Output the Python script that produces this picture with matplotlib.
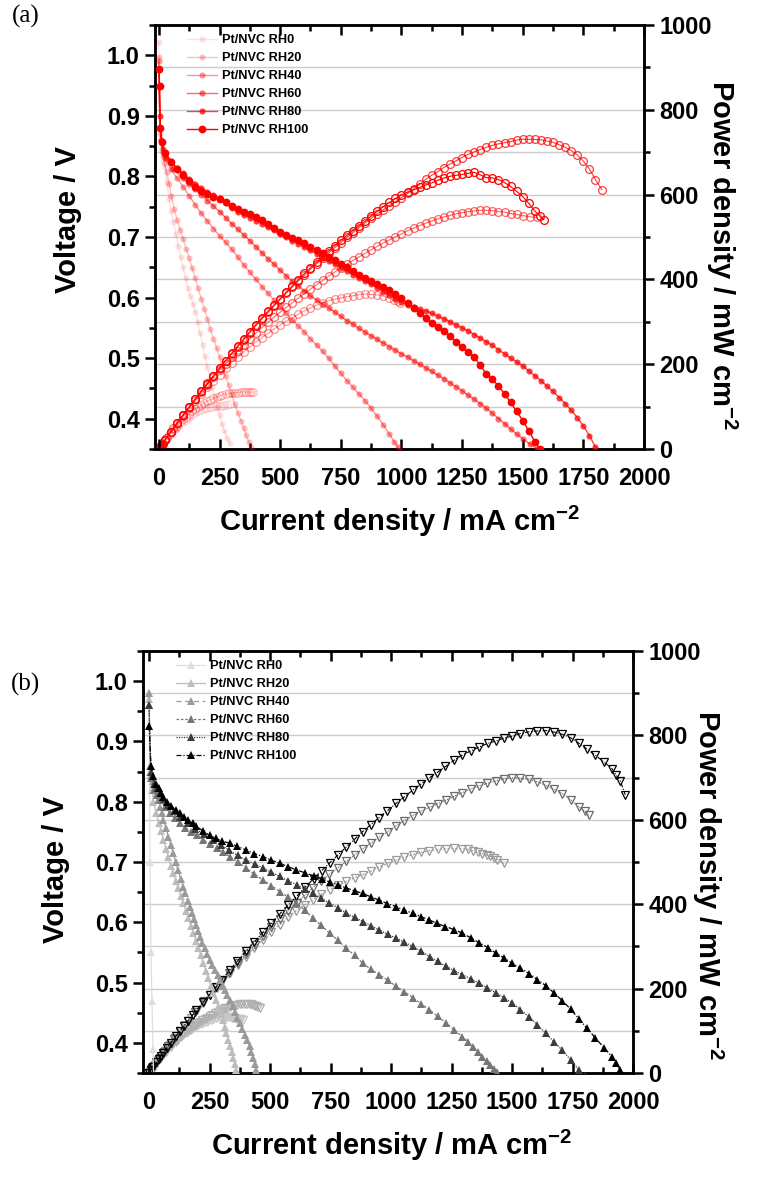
import matplotlib
matplotlib.use("Agg")
import matplotlib.pyplot as plt
import numpy as np
from matplotlib.ticker import MultipleLocator, FormatStrFormatter

plt.rcParams['font.family'] = ['Liberation Sans', 'DejaVu Sans']
plt.rcParams['mathtext.fontset'] = 'custom'
plt.rcParams['mathtext.rm'] = 'Liberation Sans'
plt.rcParams['mathtext.bf'] = 'Liberation Sans:bold'

labels = ["Pt/NVC RH0", "Pt/NVC RH20", "Pt/NVC RH40", "Pt/NVC RH60", "Pt/NVC RH80", "Pt/NVC RH100"]

# ---------------- Panel (a) data: current density (mA cm-2), voltage (V) ----------------
a_rh0_i = [0, 4, 10, 18, 25, 33, 42, 51, 60, 70, 80, 90, 100, 110, 120, 130, 140, 150, 160, 170,
           180, 190, 200, 210, 220, 230, 240, 250, 260, 270, 280, 292]
a_rh0_v = [1.022, 0.88, 0.845, 0.83, 0.816, 0.79, 0.762, 0.743, 0.725, 0.705, 0.685, 0.667, 0.650, 0.632,
           0.615, 0.603, 0.590, 0.576, 0.560, 0.541, 0.522, 0.503, 0.485, 0.468, 0.452, 0.436, 0.420,
           0.406, 0.392, 0.380, 0.368, 0.360]

a_rh20_i = [0, 5, 15, 23, 32, 42, 52, 63, 75, 88, 100, 112, 125, 138, 150, 162, 175, 188, 200, 212,
            225, 238, 250, 262, 275, 288, 300, 312, 325, 338, 350, 360, 370, 378, 386]
a_rh20_v = [0.997, 0.87, 0.835, 0.822, 0.808, 0.788, 0.767, 0.747, 0.728, 0.712, 0.697, 0.681, 0.665,
            0.648, 0.632, 0.615, 0.598, 0.581, 0.565, 0.548, 0.532, 0.517, 0.502, 0.486, 0.470, 0.455,
            0.440, 0.425, 0.410, 0.397, 0.385, 0.373, 0.362, 0.354, 0.347]

a_rh40_i = [0, 5, 15, 25, 50, 75, 100, 125, 150, 175, 200, 225, 250, 275, 300, 325, 350, 375, 400,
            425, 450, 475, 500, 525, 550, 575, 600, 625, 650, 675, 700, 725, 750, 775, 800, 825, 850,
            875, 900, 925, 950, 970, 984, 995]
a_rh40_v = [0.99, 0.88, 0.84, 0.830, 0.812, 0.797, 0.783, 0.768, 0.753, 0.739, 0.726, 0.714, 0.702,
            0.691, 0.680, 0.667, 0.654, 0.642, 0.630, 0.618, 0.607, 0.596, 0.585, 0.574, 0.563, 0.553,
            0.543, 0.532, 0.522, 0.511, 0.500, 0.487, 0.475, 0.463, 0.452, 0.441, 0.430, 0.417, 0.404,
            0.390, 0.375, 0.362, 0.354, 0.347]

a_rh60_i = [0, 5, 15, 30, 60, 100, 125, 150, 175, 200, 225, 250, 275, 300, 325, 350, 375, 400, 425,
            450, 475, 500, 525, 550, 575, 600, 625, 650, 675, 700, 725, 750, 775, 800, 825, 850, 875,
            900, 925, 950, 975, 1000, 1025, 1050, 1075, 1100, 1125, 1150, 1175, 1200, 1225, 1250,
            1275, 1300, 1325, 1350, 1375, 1400, 1425, 1450, 1475, 1500, 1530, 1560]
a_rh60_v = [0.948, 0.88, 0.845, 0.83, 0.813, 0.797, 0.788, 0.779, 0.770, 0.760, 0.751, 0.742, 0.732,
            0.722, 0.713, 0.703, 0.694, 0.684, 0.674, 0.664, 0.655, 0.645, 0.636, 0.627, 0.619, 0.611,
            0.603, 0.596, 0.589, 0.583, 0.576, 0.569, 0.562, 0.556, 0.549, 0.543, 0.537, 0.531, 0.525,
            0.519, 0.513, 0.507, 0.502, 0.496, 0.490, 0.484, 0.478, 0.472, 0.466, 0.459, 0.453, 0.446,
            0.439, 0.432, 0.425, 0.417, 0.409, 0.400, 0.392, 0.383, 0.375, 0.367, 0.358, 0.350]

a_rh80_i = [0, 4, 10, 25, 50, 75, 100, 125, 150, 175, 200, 225, 250, 275, 300, 325, 350, 375, 400,
            425, 450, 475, 500, 525, 550, 575, 600, 625, 650, 675, 700, 725, 750, 775, 800, 825, 850,
            875, 900, 925, 950, 975, 1000, 1025, 1050, 1075, 1100, 1125, 1150, 1175, 1200, 1225, 1250,
            1275, 1300, 1325, 1350, 1375, 1400, 1425, 1450, 1475, 1500, 1525, 1550, 1575, 1600, 1625,
            1650, 1675, 1700, 1725, 1750, 1775, 1800, 1826]
a_rh80_v = [0.975, 0.90, 0.86, 0.84, 0.825, 0.814, 0.805, 0.796, 0.788, 0.781, 0.775, 0.769, 0.764,
            0.756, 0.748, 0.742, 0.737, 0.732, 0.727, 0.722, 0.716, 0.711, 0.705, 0.700, 0.694, 0.689,
            0.683, 0.678, 0.672, 0.666, 0.660, 0.655, 0.649, 0.644, 0.638, 0.633, 0.627, 0.622, 0.616,
            0.610, 0.604, 0.598, 0.593, 0.588, 0.584, 0.581, 0.578, 0.574, 0.569, 0.565, 0.560, 0.555,
            0.550, 0.545, 0.539, 0.533, 0.527, 0.521, 0.514, 0.507, 0.500, 0.494, 0.487, 0.479, 0.471,
            0.463, 0.454, 0.445, 0.435, 0.425, 0.414, 0.402, 0.388, 0.372, 0.353, 0.335]

a_rh100_i = [0, 3, 6, 12, 25, 50, 75, 100, 125, 150, 175, 200, 225, 250, 275, 300, 325, 350, 375,
             400, 425, 450, 475, 500, 525, 550, 575, 600, 625, 650, 675, 700, 725, 750, 775, 800, 825,
             850, 875, 900, 925, 950, 975, 1000, 1025, 1050, 1075, 1100, 1125, 1150, 1175, 1200, 1225,
             1250, 1275, 1300, 1325, 1350, 1375, 1400, 1425, 1450, 1475, 1500, 1525, 1550, 1570, 1587]
a_rh100_v = [0.978, 0.95, 0.88, 0.857, 0.838, 0.824, 0.812, 0.803, 0.792, 0.783, 0.776, 0.771, 0.766,
             0.762, 0.757, 0.752, 0.747, 0.742, 0.738, 0.733, 0.728, 0.722, 0.715, 0.709, 0.704, 0.699,
             0.695, 0.690, 0.684, 0.678, 0.673, 0.667, 0.662, 0.656, 0.650, 0.644, 0.638, 0.632, 0.628,
             0.623, 0.618, 0.612, 0.606, 0.599, 0.591, 0.582, 0.574, 0.566, 0.558, 0.551, 0.544, 0.536,
             0.527, 0.518, 0.510, 0.502, 0.488, 0.474, 0.465, 0.454, 0.441, 0.427, 0.412, 0.397, 0.380,
             0.362, 0.350, 0.341]

# ---------------- Panel (b) data ----------------
b_rh0_i = [0, 4, 8, 12, 16, 20]
b_rh0_v = [0.98, 0.70, 0.55, 0.47, 0.39, 0.33]

b_rh20_i = [0, 5, 12, 18, 29, 40, 50, 59, 70, 80, 90, 100, 110, 120, 131, 141, 152, 162, 173, 183,
            194, 204, 214, 224, 235, 245, 255, 265, 276, 286, 296, 306, 313, 320, 327, 334, 341, 348,
            355, 361, 368, 375, 382, 389]
b_rh20_v = [0.97, 0.85, 0.82, 0.80, 0.782, 0.765, 0.751, 0.737, 0.722, 0.708, 0.694, 0.681, 0.669,
            0.657, 0.644, 0.632, 0.619, 0.607, 0.594, 0.582, 0.569, 0.557, 0.545, 0.532, 0.519, 0.507,
            0.494, 0.482, 0.471, 0.460, 0.449, 0.438, 0.427, 0.416, 0.405, 0.394, 0.385, 0.375, 0.365,
            0.355, 0.347, 0.340, 0.332, 0.324]

b_rh40_i = [0, 4, 10, 15, 24, 32, 38, 45, 52, 59, 70, 80, 90, 100, 110, 120, 131, 141, 150, 160,
            168, 176, 185, 193, 202, 210, 220, 230, 240, 251, 262, 272, 283, 293, 304, 314, 324, 334,
            345, 355, 365, 375, 385, 395, 406, 416, 423, 430, 437, 444, 450, 457]
b_rh40_v = [0.98, 0.86, 0.845, 0.835, 0.825, 0.814, 0.803, 0.792, 0.781, 0.770, 0.756, 0.742, 0.728,
            0.715, 0.700, 0.686, 0.672, 0.659, 0.648, 0.636, 0.625, 0.615, 0.605, 0.595, 0.585, 0.576,
            0.566, 0.557, 0.547, 0.538, 0.529, 0.521, 0.512, 0.504, 0.495, 0.487, 0.479, 0.471, 0.461,
            0.452, 0.442, 0.433, 0.423, 0.413, 0.404, 0.394, 0.385, 0.375, 0.365, 0.355, 0.345, 0.335]

b_rh60_i = [0, 8, 20, 32, 45, 65, 85, 106, 128, 150, 175, 200, 224, 252, 280, 307, 334, 367, 400,
            435, 471, 505, 540, 575, 609, 643, 677, 711, 746, 780, 815, 850, 883, 917, 952, 986, 1021,
            1055, 1090, 1124, 1158, 1193, 1227, 1261, 1295, 1318, 1340, 1360, 1378, 1395, 1410, 1425,
            1440, 1467]
b_rh60_v = [0.96, 0.84, 0.82, 0.811, 0.803, 0.792, 0.782, 0.773, 0.764, 0.757, 0.750, 0.744, 0.737,
            0.730, 0.723, 0.716, 0.709, 0.700, 0.690, 0.680, 0.670, 0.661, 0.651, 0.642, 0.632, 0.620,
            0.607, 0.595, 0.582, 0.570, 0.557, 0.545, 0.532, 0.522, 0.513, 0.504, 0.494, 0.485, 0.475,
            0.465, 0.455, 0.444, 0.433, 0.422, 0.410, 0.402, 0.393, 0.385, 0.377, 0.370, 0.364, 0.357,
            0.351, 0.339]

b_rh80_i = [0, 8, 20, 32, 45, 62, 80, 104, 128, 160, 190, 228, 265, 298, 330, 366, 402, 436, 470,
            505, 540, 575, 610, 643, 677, 711, 745, 780, 815, 850, 885, 918, 952, 986, 1020, 1055, 1089,
            1125, 1160, 1193, 1227, 1261, 1295, 1330, 1364, 1398, 1433, 1467, 1501, 1535, 1570, 1605,
            1639, 1673, 1707, 1742, 1776, 1800, 1817]
b_rh80_v = [0.96, 0.85, 0.83, 0.822, 0.814, 0.805, 0.795, 0.785, 0.775, 0.765, 0.755, 0.746, 0.737,
            0.728, 0.720, 0.711, 0.703, 0.697, 0.690, 0.683, 0.676, 0.669, 0.662, 0.655, 0.648, 0.640,
            0.632, 0.624, 0.615, 0.608, 0.601, 0.594, 0.587, 0.580, 0.574, 0.567, 0.560, 0.552, 0.543,
            0.535, 0.527, 0.520, 0.513, 0.506, 0.499, 0.491, 0.483, 0.475, 0.466, 0.455, 0.443, 0.430,
            0.416, 0.402, 0.388, 0.372, 0.355, 0.345, 0.336]

b_rh100_i = [0, 8, 18, 30, 40, 50, 59, 75, 90, 110, 128, 145, 160, 180, 196, 225, 250, 275, 300, 334,
             365, 400, 435, 471, 505, 540, 575, 609, 645, 680, 713, 746, 780, 815, 850, 883, 917, 950,
             985, 1021, 1055, 1090, 1125, 1158, 1190, 1225, 1260, 1295, 1330, 1365, 1400, 1433, 1467,
             1500, 1535, 1570, 1605, 1639, 1673, 1708, 1742, 1776, 1810, 1845, 1880, 1913, 1930, 1948,
             1968]
b_rh100_v = [0.925, 0.86, 0.842, 0.830, 0.822, 0.815, 0.808, 0.800, 0.793, 0.787, 0.781, 0.775, 0.770,
             0.764, 0.759, 0.751, 0.744, 0.739, 0.735, 0.731, 0.726, 0.720, 0.714, 0.709, 0.703, 0.698,
             0.692, 0.687, 0.682, 0.677, 0.672, 0.667, 0.662, 0.657, 0.652, 0.648, 0.642, 0.637, 0.631,
             0.626, 0.620, 0.615, 0.609, 0.604, 0.598, 0.593, 0.588, 0.582, 0.574, 0.566, 0.558, 0.549,
             0.541, 0.532, 0.524, 0.515, 0.505, 0.495, 0.483, 0.470, 0.456, 0.440, 0.424, 0.408, 0.392,
             0.377, 0.366, 0.355, 0.335]

a_series = [(a_rh0_i, a_rh0_v), (a_rh20_i, a_rh20_v), (a_rh40_i, a_rh40_v),
            (a_rh60_i, a_rh60_v), (a_rh80_i, a_rh80_v), (a_rh100_i, a_rh100_v)]
b_series = [(b_rh0_i, b_rh0_v), (b_rh20_i, b_rh20_v), (b_rh40_i, b_rh40_v),
            (b_rh60_i, b_rh60_v), (b_rh80_i, b_rh80_v), (b_rh100_i, b_rh100_v)]

# styles
a_alpha = [0.12, 0.25, 0.42, 0.58, 0.75, 1.0]
a_ms = [4.4, 4.4, 4.4, 4.4, 4.4, 5.6]
b_color = ['#dedede', '#bdbdbd', '#9a9a9a', '#767676', '#3c3c3c', '#000000']
b_pcolor = ['#dedede', '#c4c4c4', '#b0b0b0', '#9a9a9a', '#6a6a6a', '#000000']
b_ls = ['-', '-', (0, (4, 3)), (0, (2, 1.5)), (0, (1, 1)), (0, (4, 1.5, 1, 1.5))]

W, H = 758, 1177
fig = plt.figure(figsize=(W / 100, H / 100), dpi=100)


def box(l, t, r, b):
    return [l / W, 1 - b / H, (r - l) / W, (b - t) / H]


TICK_FS = 17
LAB_FS = 21


def style_axes(ax, ax2, xmin):
    ax.set_xlim(xmin, 2000)
    ax.set_ylim(0.35, 1.05)
    ax2.set_ylim(0, 1000)
    ax.xaxis.set_major_locator(MultipleLocator(250))
    ax.xaxis.set_minor_locator(MultipleLocator(125))
    ax.yaxis.set_major_locator(MultipleLocator(0.1))
    ax.yaxis.set_minor_locator(MultipleLocator(0.05))
    ax2.yaxis.set_major_locator(MultipleLocator(200))
    ax2.yaxis.set_minor_locator(MultipleLocator(100))
    ax.tick_params(axis='x', which='both', direction='in', top=True, bottom=True,
                   width=1.8, labelsize=TICK_FS, pad=13)
    ax.tick_params(axis='x', which='major', length=7)
    ax.tick_params(axis='x', which='minor', length=4)
    ax.tick_params(axis='y', which='both', direction='out', width=1.8, labelsize=TICK_FS, pad=4)
    ax.tick_params(axis='y', which='major', length=7)
    ax.tick_params(axis='y', which='minor', length=4)
    ax2.tick_params(axis='y', which='both', direction='out', width=1.8, labelsize=TICK_FS, pad=4)
    ax2.tick_params(axis='y', which='major', length=7)
    ax2.tick_params(axis='y', which='minor', length=4)
    ax.yaxis.set_major_formatter(FormatStrFormatter('%.1f'))
    for t in ax.get_xticklabels() + ax.get_yticklabels() + ax2.get_yticklabels():
        t.set_fontweight('bold')
    for s in list(ax.spines.values()) + list(ax2.spines.values()):
        s.set_linewidth(1.8)
    ax2.set_axisbelow(True)
    ax2.yaxis.grid(True, which='both', color='#cccccc', lw=1.0)
    ax.set_zorder(ax2.get_zorder() + 1)
    ax.patch.set_visible(False)


def add_legend(ax, handles, x0, y0):
    leg = ax.legend(handles, labels, loc='upper left', bbox_to_anchor=(x0, y0),
                    frameon=False, fontsize=9.2, handlelength=2.3, handletextpad=0.4,
                    labelspacing=0.47, borderpad=0, borderaxespad=0)
    for t in leg.get_texts():
        t.set_fontweight('bold')


# ---------------- Panel (a) ----------------
axa = fig.add_axes(box(155, 25, 644, 449))
axa2 = axa.twinx()
handles = []
for k, (ci, cv) in enumerate(a_series):
    ci = np.array(ci, float)
    cv = np.array(cv, float)
    pw = ci * cv
    axa2.plot(ci, pw, '-', color='red', alpha=a_alpha[k], lw=0.8, marker='o', ms=5.6,
              mfc='none', mec='red', mew=0.9, zorder=2 + k)
    h, = axa.plot(ci, cv, '-', color='red', alpha=a_alpha[k], lw=1.0, marker='o',
                  ms=a_ms[k], mfc='red', mec='red', mew=0, zorder=2 + k)
    handles.append(h)
style_axes(axa, axa2, -16)
add_legend(axa, handles, 0.066, 0.978)

# ---------------- Panel (b) ----------------
axb = fig.add_axes(box(143, 651, 633, 1073))
axb2 = axb.twinx()
handles = []
for k, (ci, cv) in enumerate(b_series):
    ci = np.array(ci, float)
    cv = np.array(cv, float)
    pw = ci * cv
    axb2.plot(ci, pw, linestyle=b_ls[k], color=b_pcolor[k], lw=0.8, marker='v', ms=6.2,
              mfc='none', mec=b_pcolor[k], mew=0.9, zorder=2 + k)
    h, = axb.plot(ci, cv, linestyle=b_ls[k], color=b_color[k], lw=0.9, marker='^',
                  ms=5.2, mfc=b_color[k], mec=b_color[k], mew=0, zorder=2 + k)
    handles.append(h)
style_axes(axb, axb2, -25)
add_legend(axb, handles, 0.067, 0.978)

# ---------------- Texts ----------------
xlab = r'Current density / mA cm$^{\mathbf{-2}}$'
plab = r'Power density / mW cm$^{\mathbf{-2}}$'
fig.text(400 / W, 1 - 521 / H, xlab, ha='center', va='center', fontsize=LAB_FS, fontweight='bold')
fig.text(392 / W, 1 - 1145 / H, xlab, ha='center', va='center', fontsize=LAB_FS, fontweight='bold')
fig.text(68 / W, 1 - 220 / H, 'Voltage / V', ha='center', va='center', rotation=90,
         fontsize=LAB_FS, fontweight='bold')
fig.text(56 / W, 1 - 870 / H, 'Voltage / V', ha='center', va='center', rotation=90,
         fontsize=LAB_FS, fontweight='bold')
fig.text(722 / W, 1 - 255 / H, plab, ha='center', va='center', rotation=-90,
         fontsize=LAB_FS, fontweight='bold')
fig.text(708 / W, 1 - 885 / H, plab, ha='center', va='center', rotation=-90,
         fontsize=LAB_FS, fontweight='bold')
fig.text(26 / W, 1 - 16 / H, '(a)', ha='center', va='center', fontsize=18, family='Liberation Serif')
fig.text(26 / W, 1 - 684 / H, '(b)', ha='center', va='center', fontsize=18, family='Liberation Serif')

fig.savefig('out.png', dpi=100)
